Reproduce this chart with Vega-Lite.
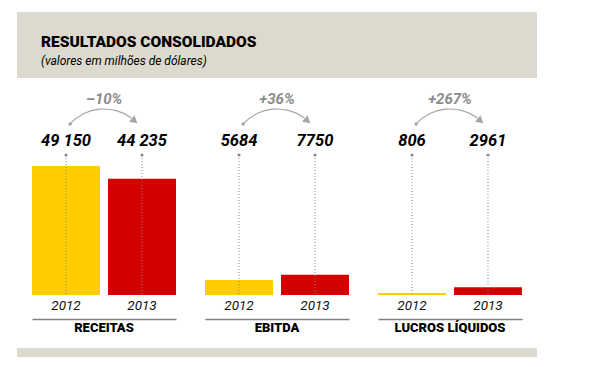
{
  "$schema": "https://vega.github.io/schema/vega-lite/v6.json",
  "padding": {"left": 17, "top": 12, "right": 5, "bottom": 5},
  "background": "white",
  "config": {"view": {"stroke": null}, "font": "Roboto"},
  "datasets": {
    "results": [
      {"grp": "RECEITAS", "year": "2012", "value": 49150, "label": "49 150", "pct": "–10%"},
      {"grp": "RECEITAS", "year": "2013", "value": 44235, "label": "44 235", "pct": "–10%"},
      {"grp": "EBITDA", "year": "2012", "value": 5684, "label": "5684", "pct": "+36%"},
      {"grp": "EBITDA", "year": "2013", "value": 7750, "label": "7750", "pct": "+36%"},
      {"grp": "LUCROS LÍQUIDOS", "year": "2012", "value": 806, "label": "806", "pct": "+267%"},
      {"grp": "LUCROS LÍQUIDOS", "year": "2013", "value": 2961, "label": "2961", "pct": "+267%"}
    ]
  },
  "spacing": 13,
  "center": true,
  "vconcat": [
    {
      "width": 520,
      "height": 66,
      "view": {"fill": "#dcdacf", "stroke": null},
      "title": {
        "text": "RESULTADOS CONSOLIDADOS",
        "subtitle": "(valores em milhões de dólares)",
        "anchor": "start",
        "frame": "group",
        "orient": "top",
        "offset": -55,
        "dx": 24,
        "font": "Roboto",
        "fontSize": 15.5,
        "fontWeight": 900,
        "color": "#000000",
        "subtitleFont": "Roboto",
        "subtitleFontSize": 12,
        "subtitleFontStyle": "italic",
        "subtitleColor": "#000000",
        "subtitlePadding": 5.5
      },
      "data": {"values": [{}]},
      "mark": {"type": "point", "opacity": 0},
      "encoding": {}
    },
    {
      "data": {"name": "results"},
      "spacing": 29,
      "facet": {
        "column": {
          "field": "grp",
          "type": "nominal",
          "sort": ["RECEITAS", "EBITDA", "LUCROS LÍQUIDOS"],
          "title": null,
          "header": {
            "labelOrient": "bottom",
            "labelPadding": 3,
            "labelFont": "Roboto",
            "labelFontSize": 13,
            "labelFontWeight": 900,
            "labelColor": "#000000"
          }
        }
      },
      "spec": {
        "width": 144,
        "height": 203,
        "layer": [
          {
            "mark": {"type": "bar"},
            "encoding": {
              "x": {
                "field": "year",
                "type": "nominal",
                "scale": {"paddingInner": 0.105, "paddingOuter": 0},
                "axis": {
                  "orient": "bottom",
                  "title": null,
                  "offset": 23,
                  "ticks": false,
                  "tickSize": 0,
                  "labelAngle": 0,
                  "labelPadding": -9.5,
                  "labelBaseline": "alphabetic",
                  "labelFont": "Roboto",
                  "labelFontSize": 13.5,
                  "labelFontStyle": "italic",
                  "labelColor": "#111111",
                  "domainColor": "#808080",
                  "domainWidth": 1.5,
                  "grid": false
                }
              },
              "y": {
                "field": "value",
                "type": "quantitative",
                "scale": {"domain": [0, 77300], "nice": false},
                "axis": null
              },
              "color": {
                "field": "year",
                "type": "nominal",
                "scale": {"domain": ["2012", "2013"], "range": ["#ffcc00", "#d40000"]},
                "legend": null
              }
            }
          },
          {
            "mark": {"type": "rule", "strokeDash": [1, 2], "color": "#8a8a8a", "strokeWidth": 1},
            "encoding": {
              "x": {"field": "year", "type": "nominal"},
              "y": {"datum": 53310, "type": "quantitative", "axis": null},
              "y2": {"datum": 0}
            }
          },
          {
            "mark": {"type": "point", "shape": "circle", "filled": true, "size": 10, "color": "#8a8a8a", "opacity": 1},
            "encoding": {
              "x": {"field": "year", "type": "nominal"},
              "y": {"datum": 53310, "type": "quantitative", "axis": null}
            }
          },
          {
            "mark": {"type": "text", "font": "Roboto", "fontSize": 16.5, "fontWeight": "bold", "fontStyle": "italic", "baseline": "middle", "color": "#000000"},
            "encoding": {
              "x": {"field": "year", "type": "nominal"},
              "y": {"datum": 58642, "type": "quantitative", "axis": null},
              "text": {"field": "label"}
            }
          },
          {
            "transform": [{"filter": "datum.year === '2012'"}],
            "mark": {"type": "arc", "theta": -0.83, "theta2": 0.64, "innerRadius": 45.4, "outerRadius": 46.6, "color": "#a6a6a6"},
            "encoding": {
              "y": {"datum": 53310, "type": "quantitative", "axis": null}
            }
          },
          {
            "transform": [{"filter": "datum.year === '2012'"}],
            "mark": {"type": "point", "shape": "circle", "filled": true, "size": 12, "color": "#a6a6a6", "opacity": 1},
            "encoding": {
              "x": {"field": "year", "type": "nominal", "bandPosition": 0.56},
              "y": {"datum": 65115, "type": "quantitative", "axis": null}
            }
          },
          {
            "transform": [{"filter": "datum.year === '2013'"}],
            "mark": {"type": "point", "shape": "triangle-up", "filled": true, "size": 70, "angle": 131, "color": "#a6a6a6", "opacity": 1},
            "encoding": {
              "x": {"field": "year", "type": "nominal", "bandPosition": 0.39},
              "y": {"datum": 66296, "type": "quantitative", "axis": null}
            }
          },
          {
            "transform": [{"filter": "datum.year === '2012'"}],
            "mark": {"type": "text", "font": "Roboto", "fontSize": 15, "fontWeight": "bold", "fontStyle": "italic", "baseline": "middle", "color": "#8c8c8c"},
            "encoding": {
              "y": {"datum": 74635, "type": "quantitative", "axis": null},
              "text": {"field": "pct"}
            }
          }
        ]
      }
    },
    {
      "width": 520,
      "height": 9,
      "view": {"fill": "#dcdacf", "stroke": null},
      "data": {"values": [{}]},
      "mark": {"type": "point", "opacity": 0},
      "encoding": {}
    }
  ]
}
